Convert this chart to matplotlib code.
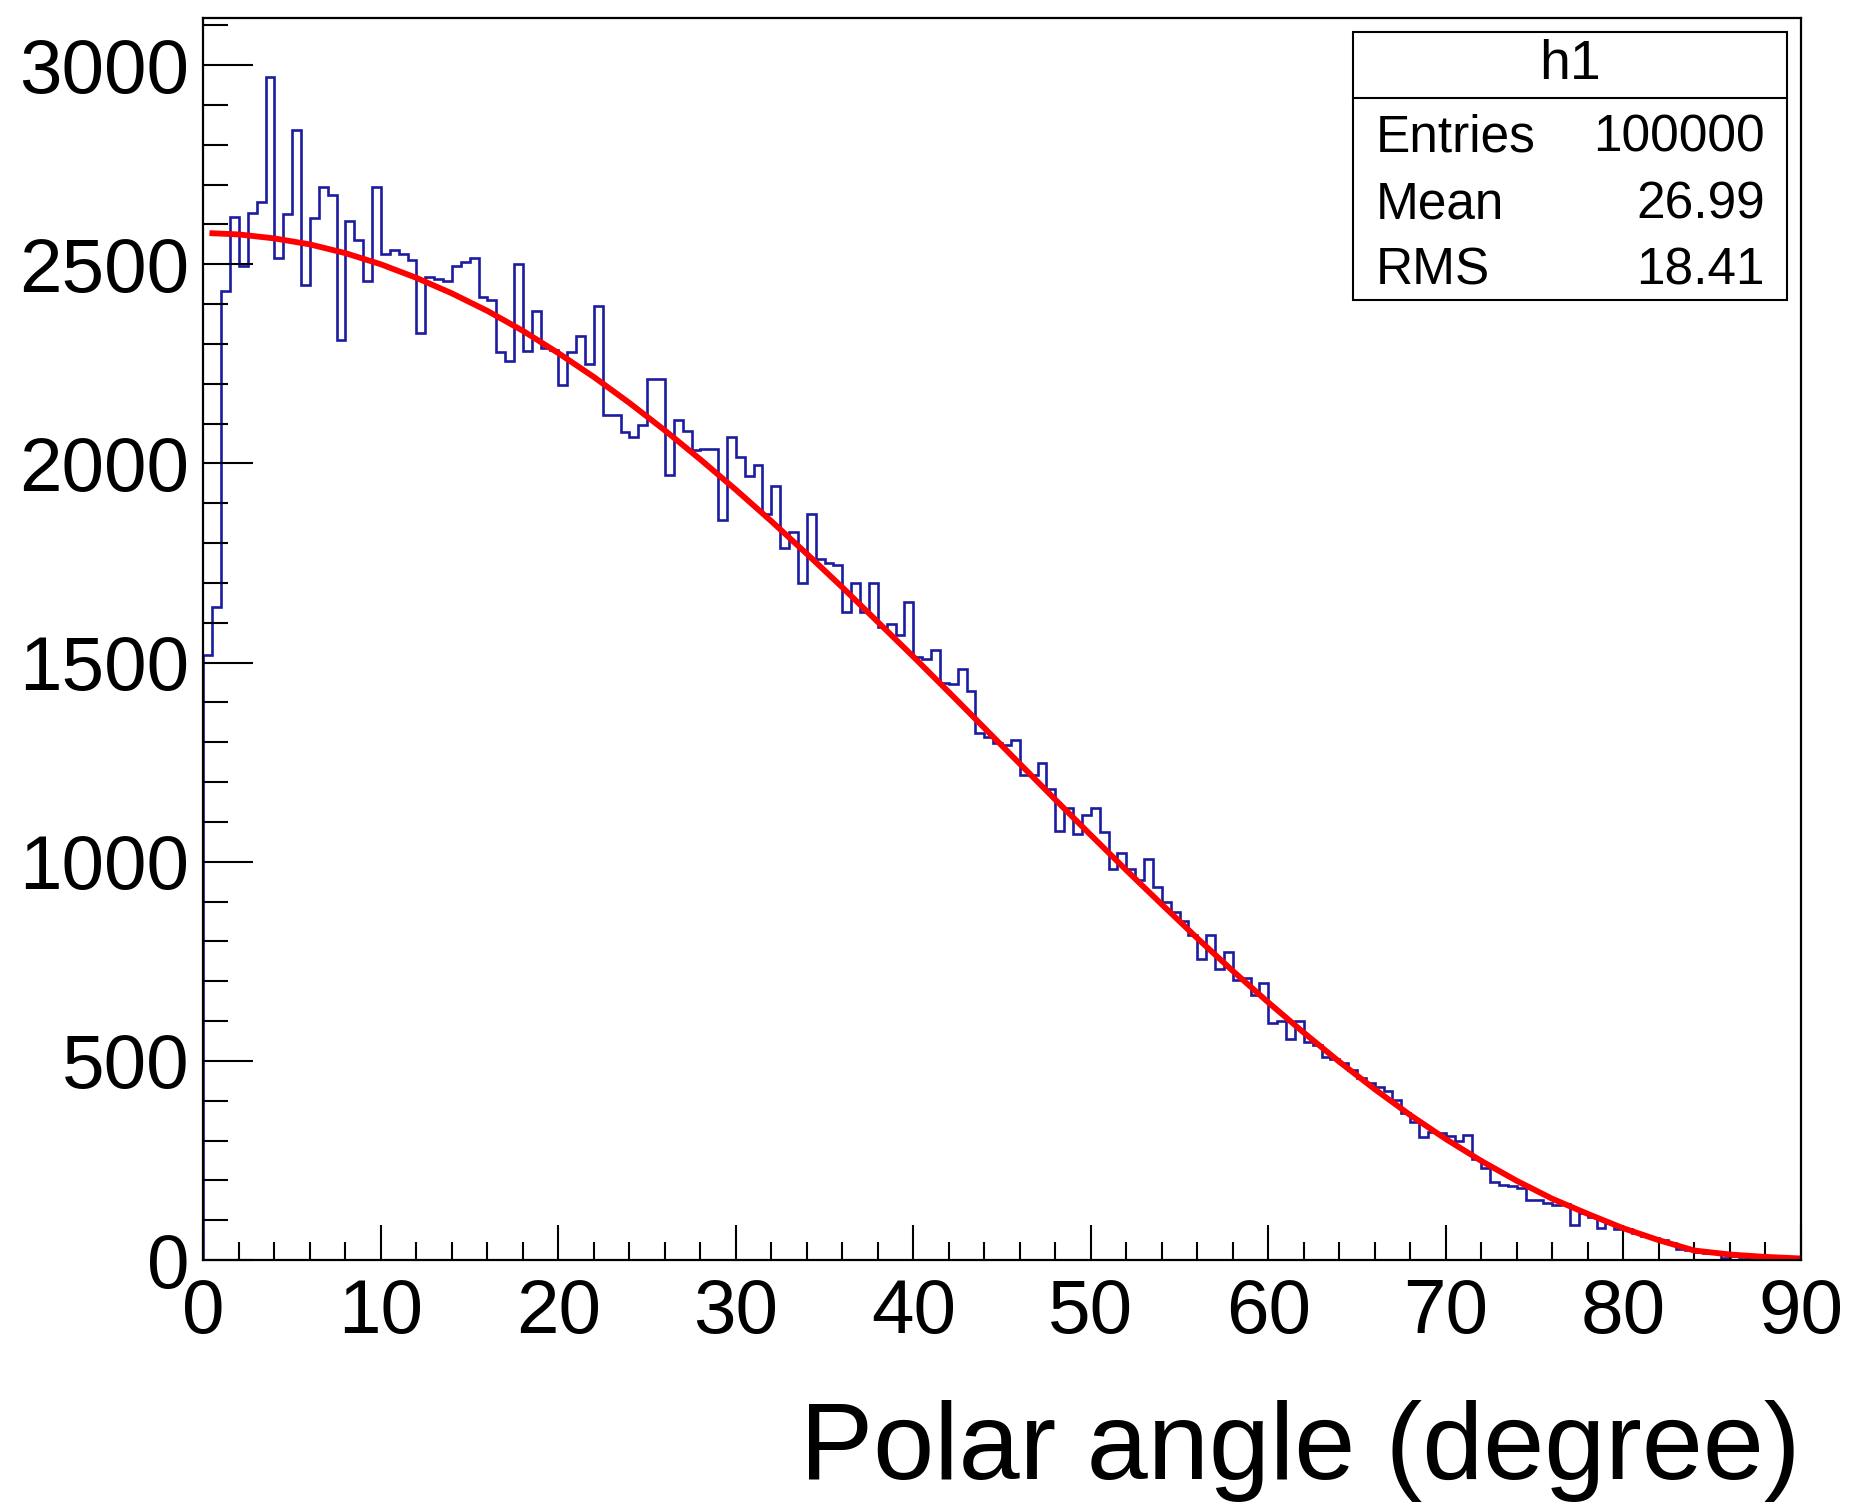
import matplotlib
matplotlib.use("Agg")
import matplotlib.pyplot as plt
import numpy as np
from matplotlib.patches import Rectangle
from matplotlib.lines import Line2D
from matplotlib.ticker import MultipleLocator

plt.rcParams['font.family'] = ['Liberation Sans', 'DejaVu Sans']

# histogram h1: 180 bins of 0.5 degree between 0 and 90
bin_width = 0.5
counts = [
    1520, 1640, 2434, 2618, 2497, 2629, 2656, 2970, 2516, 2627,
    2838, 2449, 2617, 2695, 2673, 2310, 2608, 2561, 2458, 2695,
    2526, 2535, 2525, 2510, 2327, 2468, 2464, 2458, 2495, 2505,
    2516, 2418, 2410, 2280, 2258, 2502, 2283, 2383, 2290, 2285,
    2197, 2280, 2321, 2249, 2395, 2121, 2121, 2080, 2067, 2096,
    2211, 2211, 1971, 2110, 2082, 2034, 2036, 2036, 1859, 2067,
    2015, 1968, 1996, 1874, 1943, 1787, 1829, 1699, 1874, 1760,
    1750, 1745, 1628, 1699, 1628, 1699, 1590, 1598, 1569, 1653,
    1513, 1508, 1531, 1449, 1446, 1485, 1429, 1324, 1314, 1297,
    1293, 1305, 1218, 1218, 1247, 1182, 1078, 1136, 1069, 1117,
    1136, 1075, 983, 1023, 981, 954, 1006, 936, 900, 874,
    852, 815, 757, 816, 730, 774, 703, 707, 665, 696,
    596, 600, 556, 601, 548, 540, 510, 505, 495, 477,
    456, 444, 434, 425, 402, 368, 347, 310, 322, 318,
    311, 300, 313, 253, 230, 197, 188, 186, 180, 151,
    151, 144, 138, 142, 88, 117, 109, 80, 92, 78,
    77, 67, 60, 56, 50, 42, 29, 25, 21, 18,
    17, 4, 10, 8, 6, 5, 3, 3, 2, 1,
]

# fitted curve
fit_x = [0.5, 2, 4, 6, 8, 10, 12, 14, 16, 18, 20, 22, 24, 26, 28, 30, 32, 34,
         36, 38, 40, 42, 44, 46, 48, 50, 52, 54, 56, 58, 60, 62, 64, 66, 68,
         70, 72, 74, 76, 78, 80, 82, 84, 86, 88, 90]
fit_y = [2578, 2575, 2565, 2550, 2528, 2500, 2466, 2427, 2383, 2333, 2277,
         2217, 2152, 2083, 2010, 1934, 1855, 1773, 1689, 1602, 1515, 1426,
         1336, 1246, 1156, 1067, 979, 893, 808, 726, 647, 571, 498, 429, 364,
         304, 249, 199, 154, 116, 80, 50, 24, 14, 8, 4]

stats_labels = ["Entries", "Mean", "RMS"]
stats_values = ["100000", "26.99", "18.41"]

edges = np.arange(len(counts) + 1) * bin_width

fig = plt.figure(figsize=(18.55, 15.06), dpi=100)
ax = fig.add_axes([0.1097, 0.1633, 0.8610, 0.8249])

ax.stairs(counts, edges, baseline=0, color='#1c1ca0', lw=1.9)
ax.plot(fit_x, fit_y, color='#ff0000', lw=4.2, solid_joinstyle='round')

ax.set_xlim(0, 90)
ax.set_ylim(0, 3119)

ax.xaxis.set_major_locator(MultipleLocator(10))
ax.xaxis.set_minor_locator(MultipleLocator(2))
ax.yaxis.set_major_locator(MultipleLocator(500))
ax.yaxis.set_minor_locator(MultipleLocator(100))

ax.tick_params(axis='x', which='major', direction='in', length=25, width=1.5,
               labelsize=55, pad=13, top=False)
ax.tick_params(axis='x', which='minor', direction='in', length=13, width=1.5,
               top=False)
ax.tick_params(axis='y', which='major', direction='in', length=36, width=1.5,
               labelsize=55, pad=10, right=False)
ax.tick_params(axis='y', which='minor', direction='in', length=18, width=1.5,
               right=False)
for s in ax.spines.values():
    s.set_linewidth(1.6)

fig.text(0.9707, 0.018, "Polar angle (degree)", ha='right', va='baseline',
         fontsize=79)

# stats box
x0, x1 = 0.7292, 0.9635
yt, yb, ys = 0.9790, 0.8008, 0.9351
fig.patches.append(Rectangle((x0, yb), x1 - x0, yt - yb, transform=fig.transFigure,
                             facecolor='white', edgecolor='black', lw=1.5, zorder=5))
fig.lines.append(Line2D([x0, x1], [ys, ys], transform=fig.transFigure,
                        color='black', lw=1.5, zorder=6))
fig.text((x0 + x1) / 2, (yt + ys) / 2, "h1", ha='center', va='center',
         fontsize=40, zorder=7)
row_y = [0.8993, 0.8552, 0.8108]
for lab, val, y in zip(stats_labels, stats_values, row_y):
    fig.text(0.7418, y, lab, ha='left', va='baseline', fontsize=37, zorder=7)
    fig.text(0.9515, y, val, ha='right', va='baseline', fontsize=37, zorder=7)

fig.savefig("out.png", dpi=100)
